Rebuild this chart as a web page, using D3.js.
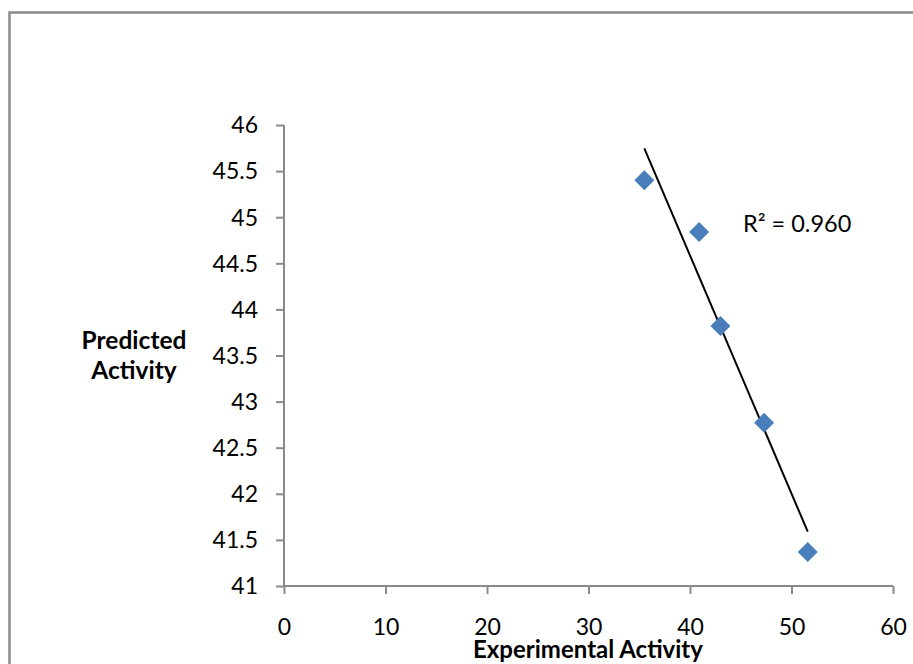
<!DOCTYPE html>
<html>
<head>
<meta charset="utf-8">
<script src="https://cdn.jsdelivr.net/npm/d3@7/dist/d3.min.js"></script>
<style>
  html, body { margin: 0; padding: 0; background: #fff; }
  svg { display: block; }
  text { font-family: Lato, "Open Sans", sans-serif; fill: #000; }
</style>
</head>
<body>
<svg id="chart" width="913" height="664"></svg>
<script>
// Data
const experimental = [35.5, 40.9, 43.0, 47.3, 51.6];
const predicted    = [45.40, 44.84, 43.82, 42.77, 41.37];
const xTicks = [0, 10, 20, 30, 40, 50, 60];
const yTicks = [41, 41.5, 42, 42.5, 43, 43.5, 44, 44.5, 45, 45.5, 46];
const xTitle = "Experimental Activity";
const yTitleLines = ["Predicted", "Activity"];
const r2Label = "R² = 0.960";

const svg = d3.select("#chart");

// Outer frame
svg.append("rect")
  .attr("x", 9.5).attr("y", 12.5)
  .attr("width", 1000).attr("height", 1000)
  .attr("fill", "none").attr("stroke", "#8a8a8a").attr("stroke-width", 2.5);

const x = d3.scaleLinear().domain([0, 60]).range([284, 893]);
const y = d3.scaleLinear().domain([41, 46]).range([586, 125]);

const axisColor = "#8a8a8a";
const tickFont = "23px";

// Y axis
const yAxis = svg.append("g")
  .attr("transform", `translate(${x(0)},0)`)
  .call(d3.axisLeft(y).tickValues(yTicks).tickSize(8).tickPadding(18)
        .tickFormat(d => d3.format("~g")(d)));
yAxis.select(".domain").attr("stroke", axisColor).attr("stroke-width", 2)
  .attr("d", `M0,${y(41)}V${y(46)}`);
yAxis.selectAll(".tick line").attr("stroke", axisColor).attr("stroke-width", 2);
yAxis.selectAll(".tick text")
  .style("font-size", tickFont).style("font-family", "Lato, 'Open Sans', sans-serif")
  .attr("fill", "#000").attr("dy", "0.34em");

// X axis
const xAxis = svg.append("g")
  .attr("transform", `translate(0,${y(41)})`)
  .call(d3.axisBottom(x).tickValues(xTicks).tickSize(8).tickPadding(25));
xAxis.select(".domain").attr("stroke", axisColor).attr("stroke-width", 2)
  .attr("d", `M${x(0)},0H${x(60)}`);
xAxis.selectAll(".tick line").attr("stroke", axisColor).attr("stroke-width", 2);
xAxis.selectAll(".tick text")
  .style("font-size", tickFont).style("font-family", "Lato, 'Open Sans', sans-serif")
  .attr("fill", "#000").attr("dy", "0.71em");

// Linear trendline (least squares over the data, drawn between min and max x)
const n = experimental.length;
const mx = d3.mean(experimental), my = d3.mean(predicted);
let sxy = 0, sxx = 0;
for (let i = 0; i < n; i++) {
  sxy += (experimental[i] - mx) * (predicted[i] - my);
  sxx += (experimental[i] - mx) ** 2;
}
const slope = sxy / sxx, intercept = my - slope * mx;
const xExt = d3.extent(experimental);
svg.append("line")
  .attr("x1", x(xExt[0])).attr("y1", y(intercept + slope * xExt[0]))
  .attr("x2", x(xExt[1])).attr("y2", y(intercept + slope * xExt[1]))
  .attr("stroke", "#000").attr("stroke-width", 2);

// Diamond markers
const diamond = d3.symbol().type(d3.symbolSquare).size(200);
svg.selectAll("path.pt")
  .data(experimental.map((v, i) => [v, predicted[i]]))
  .enter().append("path")
  .attr("class", "pt")
  .attr("d", diamond)
  .attr("transform", d => `translate(${x(d[0])},${y(d[1])}) rotate(45)`)
  .attr("fill", "#4a7ebb");

// R² label
svg.append("text")
  .attr("x", 743).attr("y", 232)
  .style("font-size", "23.5px")
  .text(r2Label);

// Axis titles
svg.append("text")
  .attr("x", 588).attr("y", 658)
  .attr("text-anchor", "middle")
  .style("font-size", "24px").style("font-weight", "bold")
  .text(xTitle);

const yt = svg.append("text")
  .attr("text-anchor", "middle")
  .style("font-size", "24.5px").style("font-weight", "bold");
yTitleLines.forEach((s, i) => {
  yt.append("tspan").attr("x", 134).attr("y", 349 + i * 30).text(s);
});
</script>
</body>
</html>
